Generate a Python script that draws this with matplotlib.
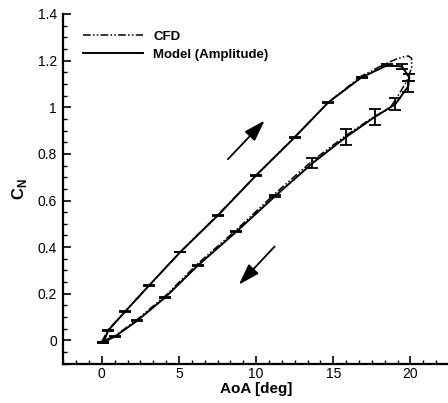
import matplotlib
matplotlib.use("Agg")
import matplotlib.pyplot as plt
from matplotlib.ticker import MultipleLocator, FormatStrFormatter
import numpy as np

plt.rcParams['font.family'] = ['Liberation Sans', 'DejaVu Sans']
plt.rcParams['mathtext.fontset'] = 'custom'
plt.rcParams['mathtext.rm'] = 'Liberation Sans'
plt.rcParams['mathtext.bf'] = 'Liberation Sans:bold'

# Model (Amplitude) - upstroke and downstroke points with error bars
model_up_aoa = [0.10, 0.42, 1.50, 3.08, 5.08, 7.52, 9.97, 12.50, 14.66, 16.83, 18.50, 19.45, 19.93]
model_up_cn = [-0.008, 0.043, 0.123, 0.237, 0.379, 0.536, 0.706, 0.871, 1.020, 1.128, 1.180, 1.175, 1.128]
model_up_err = [0.002, 0.002, 0.002, 0.002, 0.002, 0.002, 0.002, 0.002, 0.002, 0.002, 0.004, 0.010, 0.014]

model_dn_aoa = [19.86, 19.02, 17.68, 15.80, 13.65, 11.25, 8.71, 6.20, 4.10, 2.28, 0.86, 0.10]
model_dn_cn = [1.090, 1.013, 0.958, 0.871, 0.760, 0.620, 0.466, 0.320, 0.184, 0.084, 0.017, -0.008]
model_dn_err = [0.024, 0.025, 0.036, 0.035, 0.021, 0.005, 0.003, 0.002, 0.002, 0.002, 0.002, 0.002]

# CFD loop
cfd_aoa = [0.0, 0.4, 1.5, 3.1, 5.1, 7.5, 10.0, 12.5, 14.7, 16.8, 17.4, 18.2, 19.1, 19.6, 19.86,
           20.08, 20.08, 19.75, 19.2, 18.67, 17.6, 15.8, 13.6, 11.2, 8.7, 6.2, 4.1, 2.3, 0.9, 0.0]
cfd_cn = [-0.005, 0.045, 0.124, 0.238, 0.380, 0.538, 0.708, 0.873, 1.022, 1.133, 1.153, 1.181, 1.207, 1.217, 1.220,
          1.210, 1.170, 1.110, 1.050, 0.996, 0.958, 0.878, 0.768, 0.628, 0.473, 0.328, 0.190, 0.090, 0.021, -0.005]

# Direction arrows (tail -> tip) in data units
arrow_up = [(8.17, 0.777), (10.55, 0.943)]
arrow_dn = [(11.2, 0.403), (8.88, 0.239)]

fig = plt.figure(figsize=(4.48, 4.03), dpi=100)
ax = fig.add_axes([63.3 / 448, (403 - 363.7) / 403, 393.4 / 448, 349.7 / 403])

model_aoa = model_up_aoa + model_dn_aoa
model_cn = model_up_cn + model_dn_cn
model_err = model_up_err + model_dn_err

ax.plot(cfd_aoa, cfd_cn, color='black', lw=1.1,
        dashes=(5, 1.5, 1, 1.5, 1, 1.5), label='CFD', zorder=3)
ax.plot(model_aoa, model_cn, color='black', lw=1.4, label='Model (Amplitude)', zorder=4)
ax.errorbar(model_aoa, model_cn, yerr=model_err, fmt='none', ecolor='black',
            elinewidth=1.3, capsize=4.5, capthick=1.3, zorder=5)

for (t, h) in (arrow_up, arrow_dn):
    ax.annotate('', xy=h, xytext=t,
                arrowprops=dict(arrowstyle='-|>,head_length=1.3,head_width=0.42',
                                color='black', lw=1.3, shrinkA=0, shrinkB=0))

ax.set_xlim(-2.5, 23)
ax.set_ylim(-0.1, 1.4)
ax.xaxis.set_major_locator(MultipleLocator(5))
ax.xaxis.set_minor_locator(MultipleLocator(5 / 6))
ax.yaxis.set_major_locator(MultipleLocator(0.2))
ax.yaxis.set_minor_locator(MultipleLocator(0.05))
ax.yaxis.set_major_formatter(FormatStrFormatter('%g'))
ax.xaxis.set_major_formatter(FormatStrFormatter('%g'))

for s in ['top', 'right']:
    ax.spines[s].set_visible(False)
for s in ['left', 'bottom']:
    ax.spines[s].set_linewidth(1.6)

ax.tick_params(which='major', direction='in', length=6, width=1.2, labelsize=10, pad=4.5)
ax.tick_params(which='minor', direction='in', length=3.2, width=1.0)
ax.tick_params(axis='x', which='major', length=5.5, pad=2.5)
ax.tick_params(axis='x', which='minor', length=3.0)

ax.set_xlabel('AoA [deg]', fontsize=11, fontweight='bold')
ax.xaxis.set_label_coords((256 - 63.3) / 393.4, (363.7 - 381.5) / 349.7)
ax.set_ylabel(r'$\mathbf{C}_{\mathbf{N}}$', fontsize=12)
ax.yaxis.set_label_coords((29 - 63.3) / 393.4, 0.5)

leg = ax.legend(loc='upper left', frameon=False, fontsize=9.5,
                bbox_to_anchor=((78 - 63.3) / 393.4, (363.7 - 25) / 349.7),
                handlelength=4.5, handletextpad=0.8, labelspacing=0.45, borderaxespad=0)
for t in leg.get_texts():
    t.set_fontweight('bold')

fig.savefig('out.png', dpi=100)
